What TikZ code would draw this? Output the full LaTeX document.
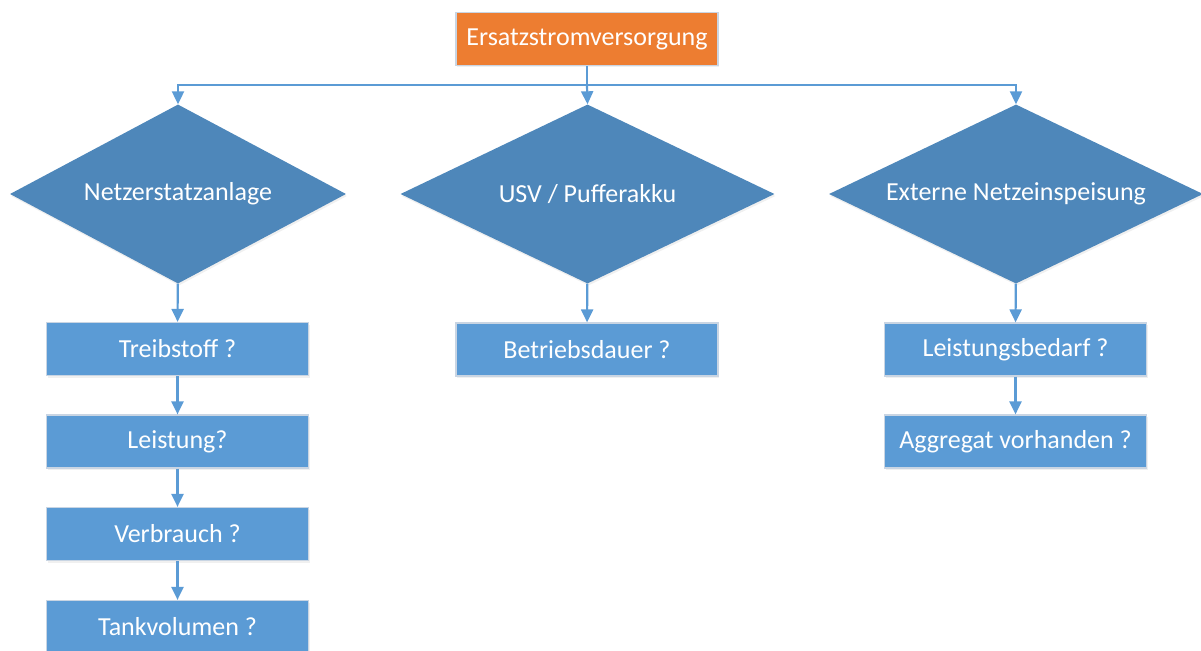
\documentclass[tikz,border=0pt]{standalone}
\usepackage{fontspec}
\setmainfont{Carlito}
\usetikzlibrary{shapes.geometric,arrows.meta,shadows}
\definecolor{boxblue}{HTML}{5B9BD5}
\definecolor{diablue}{HTML}{4E87BA}
\definecolor{toporange}{HTML}{ED7D31}
\definecolor{edgegrey}{HTML}{C9D5E3}
\begin{document}
\begin{tikzpicture}[x=1pt, y=-1pt,
  every node/.style={text=white, font=\fontsize{26}{30}\selectfont},
  qbox/.style={rectangle, fill=boxblue, draw=edgegrey, line width=1.2pt, minimum width=262pt, minimum height=53pt, inner sep=0pt, drop shadow={opacity=0.12, shadow xshift=1pt, shadow yshift=-2pt}},
  topbox/.style={qbox, fill=toporange},
  choice/.style={diamond, fill=diablue, inner sep=0pt, aspect=2, minimum height=179pt, drop shadow={opacity=0.12, shadow xshift=1pt, shadow yshift=-2pt}},
  link/.style={draw=boxblue, line width=2.2pt},
  arr/.style={link, -{Triangle[width=12pt, length=13pt]}}]
\useasboundingbox (0,0) rectangle (1201,650);
\node[topbox] (esv) at (587,39){Ersatzstromversorgung};
\coordinate (bus) at (587,85);
\node[choice, minimum width=336pt] (nea) at (178,194){Netzerstatzanlage};
\node[choice, minimum width=374pt] (usv) at (587.5,194){USV / Pufferakku};
\node[choice, minimum width=374pt] (ext) at (1016,194){Externe Netzeinspeisung};
\draw[link](esv) -- (bus);
\draw[arr](bus) -| (nea.north);
\draw[arr](bus) -- (usv.north);
\draw[arr](bus) -| (ext.north);
\node[qbox] (nea1) at (177.5,349){Treibstoff ?};
\node[qbox] (nea2) at (177.5,441.5){Leistung?};
\node[qbox] (nea3) at (177.5,534){Verbrauch ?};
\node[qbox] (nea4) at (177.5,627){Tankvolumen ?};
\draw[arr](nea) -- (nea1);
\draw[arr](nea1) -- (nea2);
\draw[arr](nea2) -- (nea3);
\draw[arr](nea3) -- (nea4);
\node[qbox] (usv1) at (587,349.5){Betriebsdauer ?};
\draw[arr](usv) -- (usv1);
\node[qbox] (ext1) at (1015.5,349.5){Leistungsbedarf ?};
\node[qbox] (ext2) at (1015.5,441.5){Aggregat vorhanden ?};
\draw[arr](ext) -- (ext1);
\draw[arr](ext1) -- (ext2);
\end{tikzpicture}
\end{document}
